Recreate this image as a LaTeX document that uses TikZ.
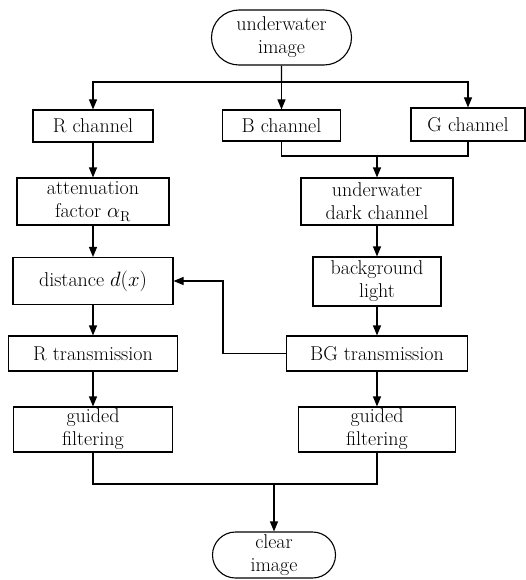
\documentclass[tikz,border=0pt]{standalone}
\usetikzlibrary{arrows.meta,shapes.misc}
\begin{document}
\begin{tikzpicture}[x=1pt, y=-1pt, font=\fontsize{20}{23}\selectfont,
    box/.style={draw, line width=1.1pt, inner sep=0pt, align=center},
    term/.style={box, rounded rectangle},
    arr/.style={line width=1.1pt, -{Triangle[length=10pt, width=8pt]}},
    wire/.style={line width=1.1pt}]
    \useasboundingbox (0,0) rectangle (526,580);
    \node[term, minimum width=140pt, minimum height=55pt] (src) at (281.5,37.5) {underwater\\image};
    \node[box, minimum width=120pt, minimum height=32pt] (rch) at (93,126) {R channel};
    \node[box, minimum width=118pt, minimum height=31pt] (bch) at (281.5,125.5) {B channel};
    \node[box, minimum width=114pt, minimum height=33pt] (gch) at (468,124.5) {G channel};
    \node[box, minimum width=152pt, minimum height=47pt] (att) at (93,201.5) {attenuation\\factor $\alpha_{\mathrm{R}}$};
    \node[box, minimum width=152pt, minimum height=47pt] (dark) at (377,201.5) {underwater\\dark channel};
    \node[box, minimum width=160pt, minimum height=47pt] (dist) at (93,281) {distance $d(x)$};
    \node[box, minimum width=128pt, minimum height=49pt] (bgl) at (377,281.5) {background\\light};
    \node[box, minimum width=169pt, minimum height=35pt] (rtr) at (93,353.5) {R transmission};
    \node[box, minimum width=181pt, minimum height=35pt] (bgtr) at (377,353.5) {BG transmission};
    \node[box, minimum width=159pt, minimum height=45pt] (gfl) at (93,429.5) {guided\\filtering};
    \node[box, minimum width=157pt, minimum height=45pt] (gfr) at (377,429.5) {guided\\filtering};
    \node[term, minimum width=123pt, minimum height=46pt] (out) at (274,555) {clear\\image};
    \coordinate (split) at (281.5,82);
    \coordinate (join) at (377,156);
    \coordinate (turn) at (223,281);
    \coordinate (merge) at (274,484);
    \draw[wire] (src) -- (split);
    \draw[arr] (split) -- (bch);
    \draw[arr] (split) -| (rch);
    \draw[arr] (split) -| (gch);
    \draw[arr] (rch) -- (att);
    \draw[arr] (att) -- (dist);
    \draw[arr] (dist) -- (rtr);
    \draw[arr] (rtr) -- (gfl);
    \draw[wire] (bch.south) |- (join);
    \draw[wire] (gch.south) |- (join);
    \draw[arr] (join) -- (dark);
    \draw[arr] (dark) -- (bgl);
    \draw[arr] (bgl) -- (bgtr);
    \draw[arr] (bgtr) -- (gfr);
    \draw[arr] (bgtr.west) -| (turn) -- (dist.east);
    \draw[wire] (gfl.south) |- (merge);
    \draw[wire] (gfr.south) |- (merge);
    \draw[arr] (merge) -- (out);
\end{tikzpicture}
\end{document}
